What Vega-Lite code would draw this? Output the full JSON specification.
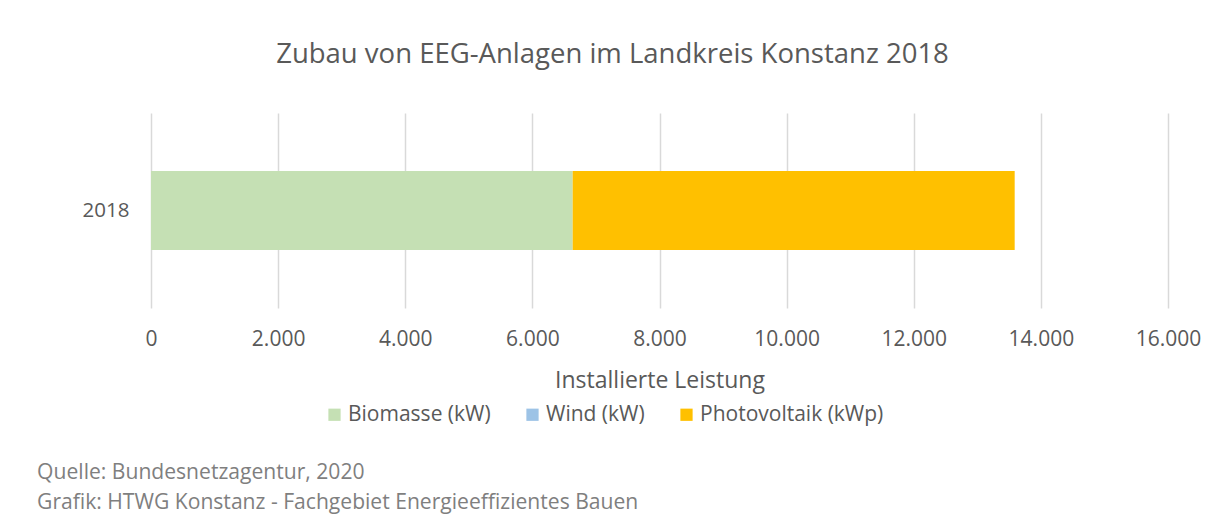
{
  "$schema": "https://vega.github.io/schema/vega-lite/v6.json",
  "background": "white",
  "padding": {"left": 37, "top": 40, "right": 5, "bottom": 5},
  "title": {
    "text": ["Quelle: Bundesnetzagentur, 2020", "Grafik: HTWG Konstanz - Fachgebiet Energieeffizientes Bauen"],
    "orient": "bottom",
    "anchor": "start",
    "frame": "bounds",
    "font": "Open Sans",
    "fontSize": 21.1,
    "fontWeight": "normal",
    "color": "#7f7f7f",
    "lineHeight": 30,
    "offset": 37,
    "dx": -45
  },
  "vconcat": [
    {
      "width": 1017,
      "height": 195,
      "title": {
        "text": "Zubau von EEG-Anlagen im Landkreis Konstanz 2018",
        "anchor": "middle",
        "font": "Open Sans",
        "fontSize": 27.5,
        "fontWeight": "normal",
        "color": "#595959",
        "dx": -47,
        "offset": 45
      },
      "data": {
        "values": [
          {"Jahr": "2018", "Energietraeger": "Biomasse (kW)", "Leistung": 6634, "Reihenfolge": 1},
          {"Jahr": "2018", "Energietraeger": "Wind (kW)", "Leistung": 0, "Reihenfolge": 2},
          {"Jahr": "2018", "Energietraeger": "Photovoltaik (kWp)", "Leistung": 6954, "Reihenfolge": 3}
        ]
      },
      "mark": {"type": "bar", "size": 79},
      "encoding": {
        "y": {
          "field": "Jahr",
          "type": "nominal",
          "title": null,
          "axis": {"domain": false, "ticks": false, "labelPadding": 22, "labelFontSize": 20.5, "labelFont": "Open Sans", "labelColor": "#595959"}
        },
        "x": {
          "field": "Leistung",
          "type": "quantitative",
          "stack": "zero",
          "title": "Installierte Leistung",
          "scale": {"domain": [0, 16000], "nice": false},
          "axis": {
            "values": [0, 2000, 4000, 6000, 8000, 10000, 12000, 14000, 16000],
            "format": ",d",
            "domain": false,
            "ticks": false,
            "grid": true,
            "gridColor": "#D9D9D9",
            "gridWidth": 1.5,
            "labelPadding": 20,
            "labelFontSize": 21,
            "labelFont": "Open Sans",
            "labelColor": "#595959",
            "labelFlush": false,
            "titleFont": "Open Sans",
            "titleFontSize": 23,
            "titleFontWeight": "normal",
            "titleColor": "#595959",
            "titlePadding": 20
          }
        },
        "color": {
          "field": "Energietraeger",
          "type": "nominal",
          "scale": {
            "domain": ["Biomasse (kW)", "Wind (kW)", "Photovoltaik (kWp)"],
            "range": ["#C5E0B4", "#9DC3E6", "#FFC000"]
          },
          "legend": {
            "title": null,
            "orient": "none",
            "direction": "horizontal",
            "legendX": 173,
            "legendY": 291,
            "symbolType": "square",
            "symbolSize": 150,
            "symbolStrokeWidth": 0,
            "labelFont": "Open Sans",
            "labelFontSize": 21,
            "labelColor": "#595959",
            "labelOffset": 3,
            "columnPadding": 31,
            "labelLimit": 300
          }
        },
        "order": {"field": "Reihenfolge", "type": "quantitative"}
      }
    }
  ],
  "config": {
    "view": {"stroke": null},
    "locale": {
      "number": {"decimal": ",", "thousands": ".", "grouping": [3], "currency": ["", " €"]}
    }
  }
}
